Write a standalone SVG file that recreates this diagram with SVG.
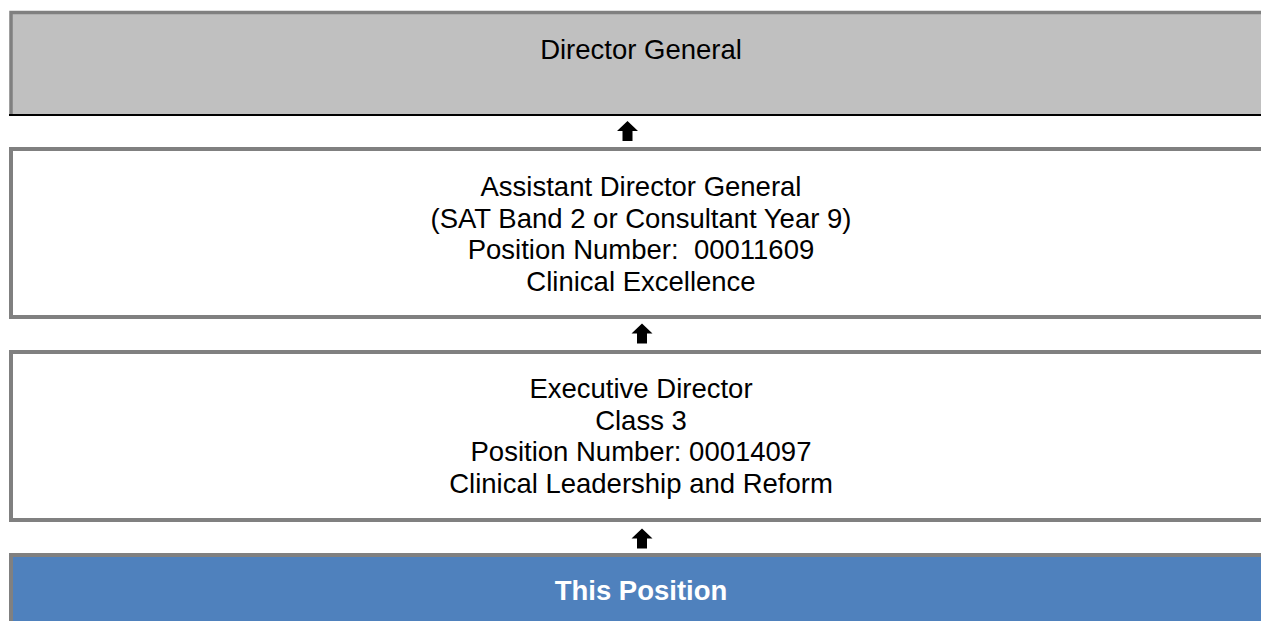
<svg xmlns="http://www.w3.org/2000/svg" width="1261" height="621" viewBox="0 0 1261 621">
  <style>
    .edge { stroke: #808080; stroke-width: 4; }
    .plain { fill: #fff; }
    .grey { fill: #C0C0C0; }
    .blue { fill: #4F81BD; }
    .txt { font-family: "Liberation Sans", Arial, sans-serif; font-size: 27.5px; fill: #000; text-anchor: middle; }
    .hl { font-family: "Liberation Sans", Arial, sans-serif; font-size: 27.5px; font-weight: bold; fill: #fff; text-anchor: middle; }
    .arrow { fill: #000; }
  </style>
  <defs>
    <!-- block arrow pointing up, tip at origin -->
    <path id="up" d="M0,0 L10.5,10 L5,10 L5,20 L-5,20 L-5,10 L-10.5,10 Z"/>
  </defs>
  <rect width="1261" height="621" fill="#fff"/>

  <g id="director-general">
    <rect class="grey" x="11" y="12.5" width="1260" height="102"/>
    <path d="M11,115 V12.5 H1270" fill="none" stroke="#808080" stroke-width="3.5"/>
    <line x1="9" y1="115" x2="1261" y2="115" stroke="#000" stroke-width="2"/>
    <text class="txt" x="641" y="59">Director General</text>
  </g>

  <g id="assistant-director-general">
    <rect class="edge plain" x="11" y="149" width="1260" height="168"/>
    <text class="txt" x="641" y="196">Assistant Director General</text>
    <text class="txt" x="641" y="227.5">(SAT Band 2 or Consultant Year 9)</text>
    <text class="txt" x="641" y="259" xml:space="preserve">Position Number:  00011609</text>
    <text class="txt" x="641" y="290.5">Clinical Excellence</text>
  </g>

  <g id="executive-director">
    <rect class="edge plain" x="11" y="352" width="1260" height="168"/>
    <text class="txt" x="641" y="398">Executive Director</text>
    <text class="txt" x="641" y="429.6">Class 3</text>
    <text class="txt" x="641" y="461.2">Position Number: 00014097</text>
    <text class="txt" x="641" y="492.8">Clinical Leadership and Reform</text>
  </g>

  <g id="this-position">
    <rect class="edge blue" x="11" y="555" width="1260" height="80"/>
    <text class="hl" x="641" y="600">This Position</text>
  </g>

  <g id="connectors">
    <use href="#up" class="arrow" x="627.5" y="121"/>
    <use href="#up" class="arrow" x="642" y="323.5"/>
    <use href="#up" class="arrow" x="642" y="528.5"/>
  </g>
</svg>
